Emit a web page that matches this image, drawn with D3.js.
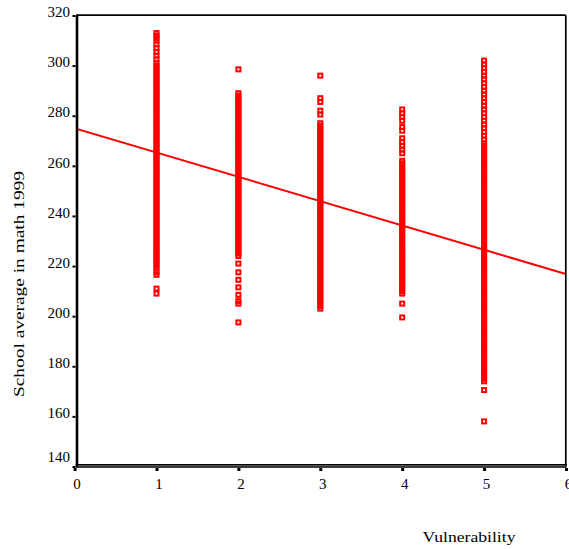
<!DOCTYPE html>
<html>
<head>
<meta charset="utf-8">
<script src="https://cdn.jsdelivr.net/npm/d3@7"></script>
<style>
  body { margin: 0; background: #fff; }
  svg { display: block; }
  text { font-family: "Liberation Serif", "Times New Roman", serif; fill: #000; }
</style>
</head>
<body>
<div id="chart"></div>
<script>
// School math averages by vulnerability level, with linear fit

const xTicks = [0, 1, 2, 3, 4, 5, 6];
const yTicks = [140, 160, 180, 200, 220, 240, 260, 280, 300, 320];

// school averages
const vuln1 = [313, 312, 311, 310, 308.5, 307, 305.5, 304, 302.5, 301,
  300, 299, 298, 297, 296, 295, 294, 293, 292, 291, 290, 289, 288, 287, 286,
  285, 284, 283, 282, 281, 280, 279, 278, 277, 276, 275, 274, 273, 272, 271,
  270, 269, 268, 267, 266, 265, 264, 263, 262, 261, 260, 259, 258, 257, 256,
  255, 254, 253, 252, 251, 250, 249, 248, 247, 246, 245, 244, 243, 242, 241,
  240, 239, 238, 237, 236, 235, 234, 233, 232, 231, 230, 229, 228, 227, 226,
  225, 224, 223, 222, 221, 220, 219, 217.5, 216.5, 211, 209];
const vuln2 = [298.5, 289, 288, 287, 286, 285, 284, 283, 282, 281, 280, 279,
  278, 277, 276, 275, 274, 273, 272, 271, 270, 269, 268, 267, 266, 265, 264,
  263, 262, 261, 260, 259, 258, 257, 256, 255, 254, 253, 252, 251, 250, 249,
  248, 247, 246, 245, 244, 243, 242, 241, 240, 239, 238, 237, 236, 235, 234,
  233, 232, 231, 230, 229, 228, 227, 226, 225, 224, 221, 217.5, 214.5, 211.5,
  208.5, 206, 205, 197.5];
const vuln3 = [296, 287, 285.5, 282, 280.5, 277, 276, 275, 274, 273, 272, 271,
  270, 269, 268, 267, 266, 265, 264, 263, 262, 261, 260, 259, 258, 257, 256,
  255, 254, 253, 252, 251, 250, 249, 248, 247, 246, 245, 244, 243, 242, 241,
  240, 239, 238, 237, 236, 235, 234, 233, 232, 231, 230, 229, 228, 227, 226,
  225, 224, 223, 222, 221, 220, 219, 218, 217, 216, 215, 214, 213, 212, 211,
  210, 209, 208, 207, 206, 205, 204, 203];
const vuln4 = [282.5, 281, 279.5, 278, 275.5, 274, 271, 269.5, 268, 266.5, 265,
  262, 261, 260, 259, 258, 257, 256, 255, 254, 253, 252, 251, 250, 249, 248,
  247, 246, 245, 244, 243, 242, 241, 240, 239, 238, 237, 236, 235, 234, 233,
  232, 231, 230, 229, 228, 227, 226, 225, 224, 223, 222, 221, 220, 219, 218,
  217, 216, 215, 214, 213, 212, 211, 210, 209, 205, 199.5];
const vuln5 = [302, 300.5, 299, 297.5, 296, 294.5, 293, 291.5, 290, 288.5, 287,
  285.5, 284, 282.5, 281, 279.5, 278, 276.5, 275, 273.5, 272, 270.5, 269, 268,
  267, 266, 265, 264, 263, 262, 261, 260, 259, 258, 257, 256, 255, 254, 253,
  252, 251, 250, 249, 248, 247, 246, 245, 244, 243, 242, 241, 240, 239, 238,
  237, 236, 235, 234, 233, 232, 231, 230, 229, 228, 227, 226, 225, 224, 223,
  222, 221, 220, 219, 218, 217, 216, 215, 214, 213, 212, 211, 210, 209, 208,
  207, 206, 205, 204, 203, 202, 201, 200, 199, 198, 197, 196, 195, 194, 193,
  192, 191, 190, 189, 188, 187, 186, 185, 184, 183, 182, 181, 180, 179, 178,
  177, 176, 175, 174, 170.5, 158];

// fitted line: math = intercept + slope * vulnerability
const fitIntercept = 275;
const fitSlope = -9.7;

const columns = [vuln1, vuln2, vuln3, vuln4, vuln5];
const points = [];
columns.forEach((vals, i) => {
    vals.forEach(v => points.push({ x: i + 1, y: v }));
});

const width = 569;
const height = 549;

const svg = d3.select('#chart').append('svg')
    .attr('width', width)
    .attr('height', height);

const xScale = d3.scaleLinear().domain([0, 6]).range([74.6, 566]);
const yScale = d3.scaleLinear().domain([140, 320]).range([466.5, 15.5]);

const plotLeft = 77, plotRight = 565.8, plotTop = 15.2, plotBottom = 465.9;

svg.append('defs').append('clipPath')
    .attr('id', 'plot-clip')
    .append('rect')
    .attr('x', plotLeft)
    .attr('y', plotTop)
    .attr('width', plotRight - plotLeft)
    .attr('height', plotBottom - plotTop);

// points
svg.append('g')
    .selectAll('rect')
    .data(points)
    .enter()
    .append('rect')
    .attr('x', d => xScale(d.x) - 2)
    .attr('y', d => yScale(d.y) - 2)
    .attr('width', 4)
    .attr('height', 4)
    .attr('fill', 'none')
    .attr('stroke', '#ff0000')
    .attr('stroke-width', 2);

// regression line
svg.append('line')
    .attr('clip-path', 'url(#plot-clip)')
    .attr('x1', xScale(0))
    .attr('y1', yScale(fitIntercept))
    .attr('x2', xScale(6))
    .attr('y2', yScale(fitIntercept + fitSlope * 6))
    .attr('stroke', '#ff0000')
    .attr('stroke-width', 2);

// frame
svg.append('line')
    .attr('x1', plotLeft).attr('x2', plotRight)
    .attr('y1', plotTop).attr('y2', plotTop)
    .attr('stroke', '#000').attr('stroke-width', 1.7);
svg.append('line')
    .attr('x1', plotRight).attr('x2', plotRight)
    .attr('y1', plotTop).attr('y2', plotBottom)
    .attr('stroke', '#000').attr('stroke-width', 1.7);
svg.append('line')
    .attr('x1', plotLeft).attr('x2', plotLeft)
    .attr('y1', plotTop - 0.8).attr('y2', plotBottom)
    .attr('stroke', '#000').attr('stroke-width', 2.6);
svg.append('line')
    .attr('x1', plotLeft - 1.3).attr('x2', plotRight + 0.8)
    .attr('y1', plotBottom).attr('y2', plotBottom)
    .attr('stroke', '#000').attr('stroke-width', 3.7);
svg.append('line')
    .attr('x1', plotLeft + 1).attr('x2', plotRight)
    .attr('y1', plotBottom).attr('y2', plotBottom)
    .attr('stroke', '#9a9a9a').attr('stroke-width', 0.9);

// y axis
const yAxis = d3.axisLeft(yScale)
    .tickValues(yTicks)
    .tickSize(3)
    .tickPadding(2.5);

const yG = svg.append('g')
    .attr('transform', 'translate(75.5,0)')
    .call(yAxis);
yG.select('.domain').remove();
yG.selectAll('.tick line').attr('stroke', '#000').attr('stroke-width', 2);
yG.selectAll('.tick text')
    .attr('dy', null)
    .attr('y', d => d === 140 ? -5 : 1.2)
    .style('font-size', '15px')
    .style('font-family', '"Liberation Serif", serif');

// x axis
const xAxis = d3.axisBottom(xScale)
    .tickValues(xTicks)
    .tickSize(3)
    .tickFormat(d3.format('d'));

const xG = svg.append('g')
    .attr('transform', 'translate(0,468)')
    .call(xAxis);
xG.select('.domain').remove();
xG.selectAll('.tick line').attr('stroke', '#000').attr('stroke-width', 3);
xG.selectAll('.tick text')
    .attr('dy', null)
    .attr('y', 21)
    .attr('dx', 2)
    .style('font-size', '15px')
    .style('font-family', '"Liberation Serif", serif');

// axis titles
svg.append('text')
    .attr('x', 469)
    .attr('y', 541.5)
    .attr('text-anchor', 'middle')
    .attr('textLength', 93)
    .attr('lengthAdjust', 'spacingAndGlyphs')
    .style('font-size', '15px')
    .text('Vulnerability');

svg.append('text')
    .attr('transform', 'translate(24,284) rotate(-90)')
    .attr('text-anchor', 'middle')
    .attr('textLength', 226)
    .attr('lengthAdjust', 'spacingAndGlyphs')
    .style('font-size', '15px')
    .text('School average in math 1999');
</script>
</body>
</html>
